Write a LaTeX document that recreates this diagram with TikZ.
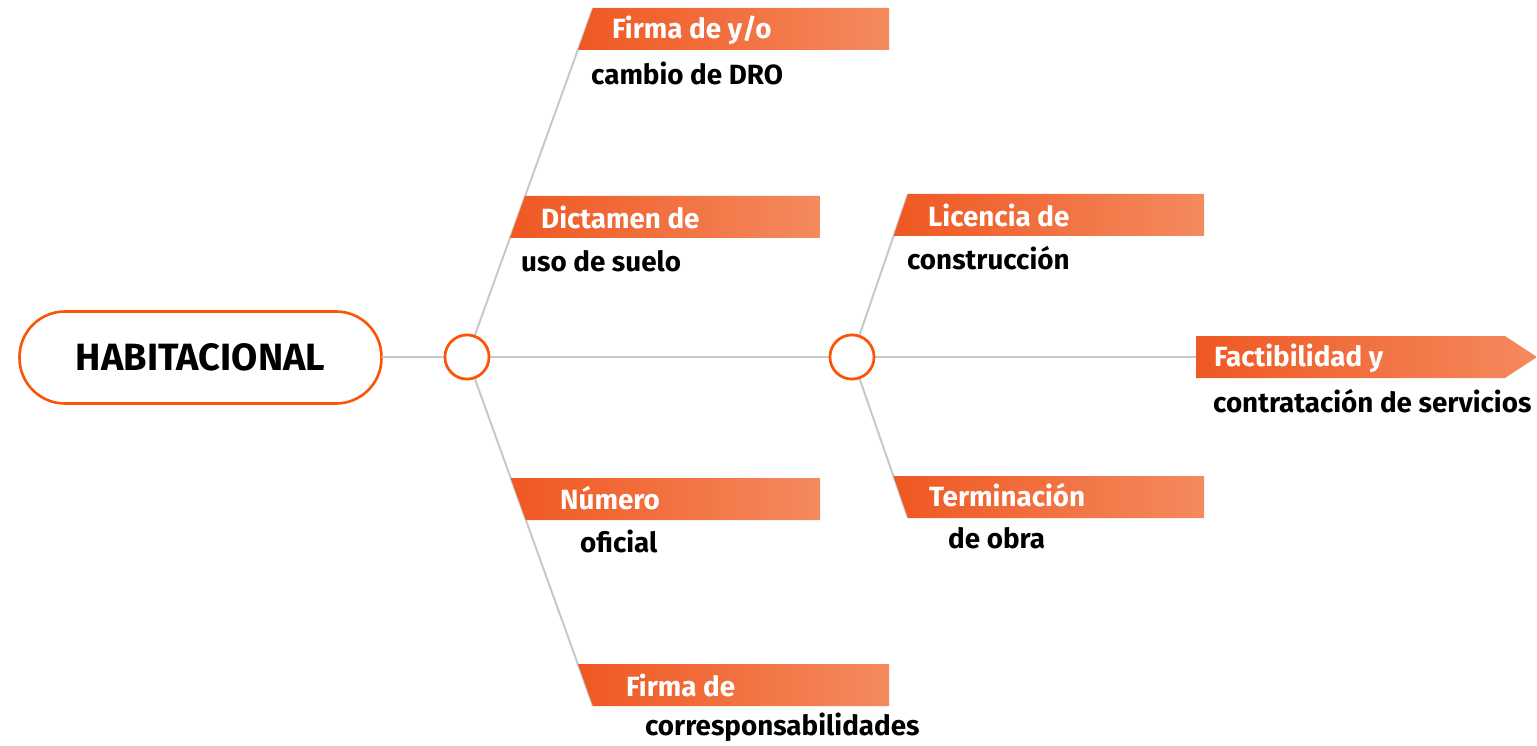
\documentclass[tikz,border=0pt]{standalone}
\usepackage{fontspec}
\setmainfont{Fira Sans}
\definecolor{ring}{RGB}{252,84,6}
\definecolor{bnL}{RGB}{239,88,34}
\definecolor{bnR}{RGB}{244,138,94}
\definecolor{ln}{RGB}{200,200,200}
\tikzset{
  conn/.style={draw=ln, line width=2pt},
  hub/.style={circle, draw=ring, line width=2.6pt, fill=white, minimum size=44pt, inner sep=0pt},
  pill/.style={rounded rectangle, draw=ring, line width=2.6pt, fill=white, minimum width=361pt, minimum height=91pt, font=\fontsize{38}{42}\selectfont\bfseries},
  bannerbg/.style={left color=bnL, right color=bnR, shading angle=90},
  wt/.style={text=white, font=\fontsize{27.8}{32}\selectfont\bfseries, anchor=west, inner sep=0pt},
  bt/.style={text=black, font=\fontsize{27.8}{32}\selectfont\bfseries, anchor=west, inner sep=0pt}
}
\usetikzlibrary{shapes.misc}
\begin{document}
\begin{tikzpicture}[x=1pt,y=-1pt]
\useasboundingbox (0,0) rectangle (1537,746);
% hubs
\draw[ring, line width=2.6pt, fill=white, rounded corners=45.5pt] (19.5,311.5) rectangle (381.5,403.5);
\node[font=\fontsize{38}{42}\selectfont\bfseries, inner sep=0pt, minimum width=362pt, minimum height=92pt] (hab) at (200.5,357.5) {HABITACIONAL};
\node[hub] (c1) at (467,357) {};
\node[hub] (c2) at (852,357) {};
\coordinate (fin) at (1196,357);
\coordinate (t1) at (593,8);
\coordinate (t2) at (593,706);
\coordinate (t3) at (908,194);
\coordinate (t4) at (908,518);
% connectors
\draw[conn] (hab) -- (c1);
\draw[conn] (c1) -- (c2);
\draw[conn] (c2) -- (fin);
\draw[conn] (c1) -- (t1);
\draw[conn] (c1) -- (t2);
\draw[conn] (c2) -- (t3);
\draw[conn] (c2) -- (t4);
% redraw hubs on top
\node[hub] at (c1) {};
\node[hub] at (c2) {};
% banners
\shade[bannerbg] (593,8) -- (889,8) -- (889,50) -- (578,50) -- cycle;
\shade[bannerbg] (525,196) -- (820,196) -- (820,238) -- (510,238) -- cycle;
\shade[bannerbg] (510.7,478) -- (820,478) -- (820,520) -- (525.8,520) -- cycle;
\shade[bannerbg] (578,664) -- (889,664) -- (889,706) -- (593,706) -- cycle;
\shade[bannerbg] (908,194) -- (1204,194) -- (1204,236) -- (893.6,236) -- cycle;
\shade[bannerbg] (893.4,476) -- (1204,476) -- (1204,518) -- (908,518) -- cycle;
\shade[bannerbg] (1196,336) -- (1505,336) -- (1537,357) -- (1505,378) -- (1196,378) -- cycle;
% texts
\node[wt] (b1) at (612,30) {Firma de y/o};
\node[bt] (s1) at (591,73) {cambio de DRO};
\node[wt] (b2) at (541,217) {Dictamen de};
\node[bt] (s2) at (521,261) {uso de suelo};
\node[wt] (b3) at (560,498) {Número};
\node[bt] (s3) at (580,541) {oficial};
\node[wt] (b4) at (626,685) {Firma de};
\node[bt] (s4) at (645,727) {corresponsabilidades};
\node[wt] (b5) at (928,215) {Licencia de};
\node[bt] (s5) at (907,258) {construcción};
\node[wt] (b6) at (929,495) {Terminación};
\node[bt] (s6) at (948,538) {de obra};
\node[wt] (b7) at (1214,358) {Factibilidad y};
\node[bt] (s7) at (1213,401) {contratación de servicios};
\end{tikzpicture}
\end{document}
